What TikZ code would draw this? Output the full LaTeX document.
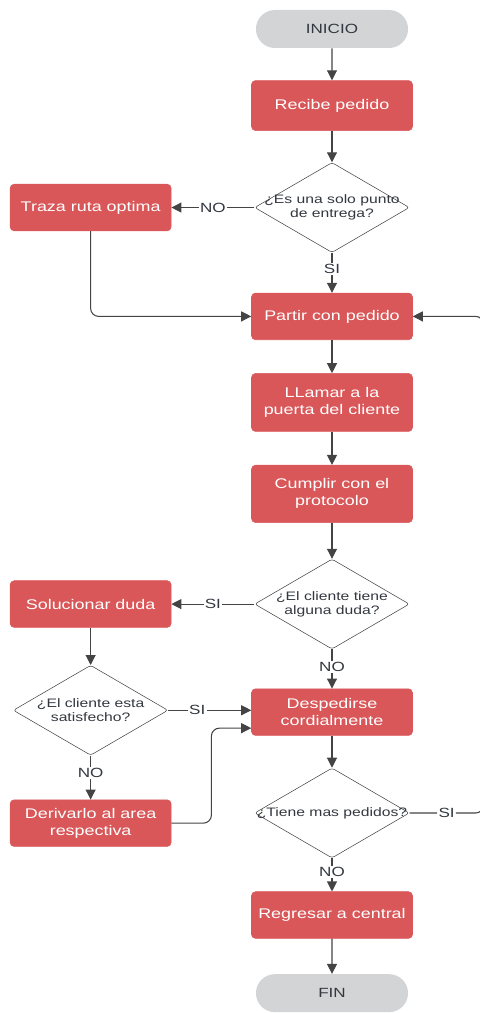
\documentclass[tikz,border=0pt]{standalone}
\usepackage{fontspec}
\setmainfont{Liberation Sans}[FakeStretch=1.28]
\usetikzlibrary{arrows.meta,positioning,shapes.misc,shapes.geometric}
\definecolor{FlowRed}{RGB}{217,87,89}
\definecolor{FlowGray}{RGB}{211,212,214}
\definecolor{FlowLine}{RGB}{68,68,68}
\definecolor{FlowText}{RGB}{51,56,64}

\begin{document}
\begin{tikzpicture}[node distance=24.9pt,
    procbox/.style={draw=FlowRed,fill=FlowRed,rounded corners=3pt,minimum width=120.75pt,minimum height=35pt,align=center,text=white,font=\fontsize{10.5}{12.75}\selectfont},
    termbox/.style={rounded rectangle,fill=FlowGray,minimum width=120.75pt,minimum height=28.5pt,text=FlowText,font=\fontsize{10}{12}\selectfont},
    decbox/.style={diamond,draw=FlowLine,fill=white,rounded corners=2pt,minimum width=116pt,minimum height=67.5pt,inner sep=0pt},
    dectext/.style={align=center,text=FlowText,font=\fontsize{9.2}{10.5}\selectfont},
    lbl/.style={fill=white,inner sep=1pt,text=FlowText,font=\fontsize{10}{12}\selectfont},
    flow/.style={-{Triangle[length=7.5pt,width=7.5pt]},draw=FlowLine,line width=0.8pt}]
    \useasboundingbox (-249pt,21.75pt) rectangle (110.25pt,-738pt);
    % columna principal
    \node[termbox] (ini) at (0,0) {INICIO};
    \node[procbox,below=24pt of ini,minimum height=37.5pt] (rec) {Recibe pedido};
    \node[decbox,below=23.6pt of rec,label={[dectext]center:{¿Es una solo punto\\de entrega?}}] (d1) {};
    \node[procbox,below=30pt of d1] (partir) {Partir con pedido};
    \node[procbox,below=of partir,minimum height=43.5pt] (llamar) {LLamar a la\\puerta del cliente};
    \node[procbox,below=of llamar,minimum height=43pt] (cumplir) {Cumplir con el\\protocolo};
    \node[decbox,below=27pt of cumplir,label={[dectext]center:{¿El cliente tiene\\alguna duda?}}] (d2) {};
    \node[procbox,below=29.4pt of d2] (desp) {Despedirse\\cordialmente};
    \node[decbox,below=24pt of desp,label={[dectext]center:{¿Tiene mas pedidos?}}] (d4) {};
    \node[procbox,below=of d4] (reg) {Regresar a central};
    \node[termbox,below=26.4pt of reg] (fin) {FIN};
    % columna izquierda
    \node[procbox,left=62.25pt of d1] (traza) {Traza ruta optima};
    \node[procbox,left=62.25pt of d2] (sol) {Solucionar duda};
    \node[decbox,below=28pt of sol,label={[dectext]center:{¿El cliente esta\\satisfecho?}}] (d3) {};
    \node[procbox,below=33pt of d3] (der) {Derivarlo al area\\respectiva};

    \draw[flow] (ini) -- (rec);
    \draw[flow] (rec) -- (d1);
    \draw[flow] (d1) -- node[lbl]{NO} (traza);
    \draw[flow] (d1) -- node[lbl,pos=0.4]{SI} (partir);
    \draw[flow,rounded corners=6pt] (traza) |- (partir);
    \draw[flow] (partir) -- (llamar);
    \draw[flow] (llamar) -- (cumplir);
    \draw[flow] (cumplir) -- (d2);
    \draw[flow] (d2) -- node[lbl]{SI} (sol);
    \draw[flow] (d2) -- node[lbl,pos=0.45]{NO} (desp);
    \draw[flow] (sol) -- (d3);
    \draw[flow] (d3.east) -- node[lbl,pos=0.35]{SI} (d3.east -| desp.west);
    \draw[flow] (d3) -- node[lbl,pos=0.4]{NO} (der);
    \draw[flow,rounded corners=6pt] (der.east) -- ++(30pt,0) |- ([yshift=-12pt]desp.west);
    \draw[flow] (desp) -- (d4);
    \draw[flow,rounded corners=6pt] (d4.east) -- node[lbl]{SI} ++(55.5pt,0) |- (partir);
    \draw[flow] (d4) -- node[lbl,pos=0.4]{NO} (reg);
    \draw[flow] (reg) -- (fin);
\end{tikzpicture}
\end{document}
